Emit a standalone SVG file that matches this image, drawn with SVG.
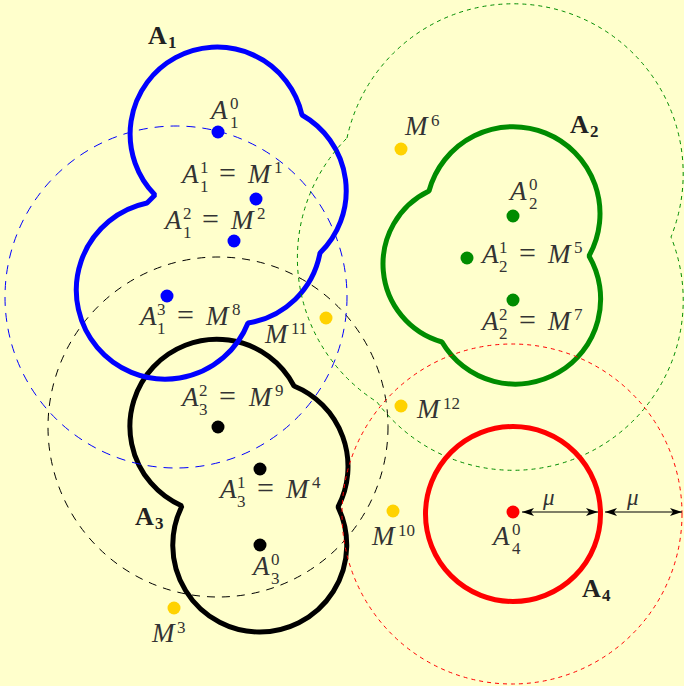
<svg xmlns="http://www.w3.org/2000/svg" width="684" height="686" viewBox="0 0 684 686">
<defs>
<style>
.blob{fill:none;stroke-width:5;stroke-linejoin:bevel}
.dash{fill:none;stroke-width:1}
.m{font-family:"Liberation Serif","Times New Roman",serif;font-style:italic;font-size:27px;fill:#333}
.s{font-style:normal;font-size:17px}
.eq{font-style:normal;font-size:30px}
.b{font-family:"Liberation Serif","Times New Roman",serif;font-weight:bold;font-size:26px;fill:#222}
.bs{font-size:17px}
.mu{font-family:"Liberation Serif","Times New Roman",serif;font-style:italic;font-size:23px;fill:#333}
</style>
<marker id="ah" viewBox="0 0 12 8" refX="12" refY="4" markerWidth="12" markerHeight="8" orient="auto-start-reverse" markerUnits="userSpaceOnUse">
<path d="M0,0 L12,4 L0,8 L3,4 Z" fill="#000"/>
</marker>
</defs>
<rect width="684" height="686" fill="#ffffcc"/>

<g id="A3">
<circle class="dash" cx="218" cy="427" r="170" stroke="#000" stroke-dasharray="8 7"/>
<path class="blob" stroke="#000" d="M294,386 A87,87 0 0 1 338,507 A87,87 0 1 1 182,506 A87,87 0 1 1 294,386 Z"/>
<g fill="#000"><circle cx="218" cy="427" r="6.5"/><circle cx="260" cy="469" r="6.5"/><circle cx="260" cy="545" r="6.5"/></g>
<text class="m"><tspan x="182" y="406">A</tspan><tspan class="s" x="199" y="396">2</tspan><tspan class="s" x="199" y="415">3</tspan><tspan class="eq" x="219" y="406">=</tspan><tspan x="249" y="406">M</tspan><tspan class="s" x="275" y="396">9</tspan></text>
<text class="m"><tspan x="220" y="498">A</tspan><tspan class="s" x="237" y="488">1</tspan><tspan class="s" x="237" y="507">3</tspan><tspan class="eq" x="257" y="498">=</tspan><tspan x="286" y="498">M</tspan><tspan class="s" x="312" y="488">4</tspan></text>
<text class="m"><tspan x="253" y="575">A</tspan><tspan class="s" x="271" y="565">0</tspan><tspan class="s" x="271" y="584">3</tspan></text>
<text class="b"><tspan x="135" y="525">A</tspan><tspan class="bs" x="155" y="529">3</tspan></text>
</g>

<g id="A1">
<circle class="dash" cx="176" cy="297" r="171" stroke="#0000ff" stroke-dasharray="9 7"/>
<path class="blob" stroke="#0000ff" d="M155,195 A87,87 0 1 1 302,115 A87,87 0 0 1 320,253 A87,87 0 0 1 248,323 A89,89 0 1 1 147,203 Z"/>
<g fill="#0000ff"><circle cx="218" cy="132" r="6.5"/><circle cx="256" cy="199" r="6.5"/><circle cx="234" cy="241" r="6.5"/><circle cx="167" cy="296" r="6.5"/></g>
<text class="m"><tspan x="211" y="119">A</tspan><tspan class="s" x="230" y="109">0</tspan><tspan class="s" x="230" y="128">1</tspan></text>
<text class="m"><tspan x="182" y="183">A</tspan><tspan class="s" x="200" y="173">1</tspan><tspan class="s" x="200" y="192">1</tspan><tspan class="eq" x="219" y="183">=</tspan><tspan x="248" y="183">M</tspan><tspan class="s" x="274" y="173">1</tspan></text>
<text class="m"><tspan x="165" y="229">A</tspan><tspan class="s" x="183" y="219">2</tspan><tspan class="s" x="183" y="238">1</tspan><tspan class="eq" x="202" y="229">=</tspan><tspan x="231" y="229">M</tspan><tspan class="s" x="257" y="219">2</tspan></text>
<text class="m"><tspan x="140" y="325">A</tspan><tspan class="s" x="157" y="315">3</tspan><tspan class="s" x="157" y="334">1</tspan><tspan class="eq" x="177" y="325">=</tspan><tspan x="206" y="325">M</tspan><tspan class="s" x="232" y="315">8</tspan></text>
<text class="b"><tspan x="148" y="44">A</tspan><tspan class="bs" x="168" y="48">1</tspan></text>
</g>

<g id="A2">
<path class="dash" stroke="#008c00" stroke-dasharray="4 4" d="M347,138 A170,170 0 1 1 671,237 A170,170 0 0 1 377,402 A170,170 0 0 1 347,138 Z"/>
<path class="blob" stroke="#008c00" d="M429,191 A87,87 0 1 1 589,256 A85,85 0 0 1 442,342 A81,81 0 0 1 429,191 Z"/>
<g fill="#008c00"><circle cx="513" cy="216" r="6.5"/><circle cx="467" cy="258" r="6.5"/><circle cx="513" cy="300" r="6.5"/></g>
<text class="m"><tspan x="510" y="200">A</tspan><tspan class="s" x="529" y="190">0</tspan><tspan class="s" x="529" y="209">2</tspan></text>
<text class="m"><tspan x="482" y="263">A</tspan><tspan class="s" x="499" y="253">1</tspan><tspan class="s" x="499" y="272">2</tspan><tspan class="eq" x="519" y="263">=</tspan><tspan x="548" y="263">M</tspan><tspan class="s" x="574" y="253">5</tspan></text>
<text class="m"><tspan x="482" y="330">A</tspan><tspan class="s" x="499" y="320">2</tspan><tspan class="s" x="499" y="339">2</tspan><tspan class="eq" x="519" y="330">=</tspan><tspan x="548" y="330">M</tspan><tspan class="s" x="574" y="320">7</tspan></text>
<text class="b"><tspan x="570" y="133">A</tspan><tspan class="bs" x="590" y="137">2</tspan></text>
</g>

<g id="A4">
<circle class="dash" cx="512" cy="514" r="170" stroke="#ff0000" stroke-dasharray="4 4"/>
<circle class="blob" cx="513" cy="514" r="87.5" stroke="#ff0000"/>
<circle cx="513" cy="512" r="6.5" fill="#ff0000"/>
<text class="m"><tspan x="493" y="545">A</tspan><tspan class="s" x="512" y="535">0</tspan><tspan class="s" x="512" y="554">4</tspan></text>
<text class="b"><tspan x="582" y="597">A</tspan><tspan class="bs" x="602" y="601">4</tspan></text>
</g>

<g id="M-points" fill="#ffd200">
<circle cx="401" cy="149" r="6.5"/>
<circle cx="326" cy="318" r="6.5"/>
<circle cx="401" cy="406" r="6.5"/>
<circle cx="393" cy="511" r="6.5"/>
<circle cx="174" cy="608" r="6.5"/>
</g>
<g id="M-labels">
<text class="m"><tspan x="405" y="135">M</tspan><tspan class="s" x="431" y="126">6</tspan></text>
<text class="m"><tspan x="265" y="343">M</tspan><tspan class="s" x="291" y="334">11</tspan></text>
<text class="m"><tspan x="417" y="418">M</tspan><tspan class="s" x="443" y="409">12</tspan></text>
<text class="m"><tspan x="372" y="545">M</tspan><tspan class="s" x="398" y="536">10</tspan></text>
<text class="m"><tspan x="152" y="642">M</tspan><tspan class="s" x="177" y="633">3</tspan></text>
</g>

<g id="connectors" stroke="#000" stroke-width="1.2">
<line x1="522" y1="512" x2="598" y2="512" marker-start="url(#ah)" marker-end="url(#ah)"/>
<line x1="605" y1="512" x2="682" y2="512" marker-start="url(#ah)" marker-end="url(#ah)"/>
</g>
<text class="mu" x="543" y="505">μ</text>
<text class="mu" x="627" y="505">μ</text>
</svg>
